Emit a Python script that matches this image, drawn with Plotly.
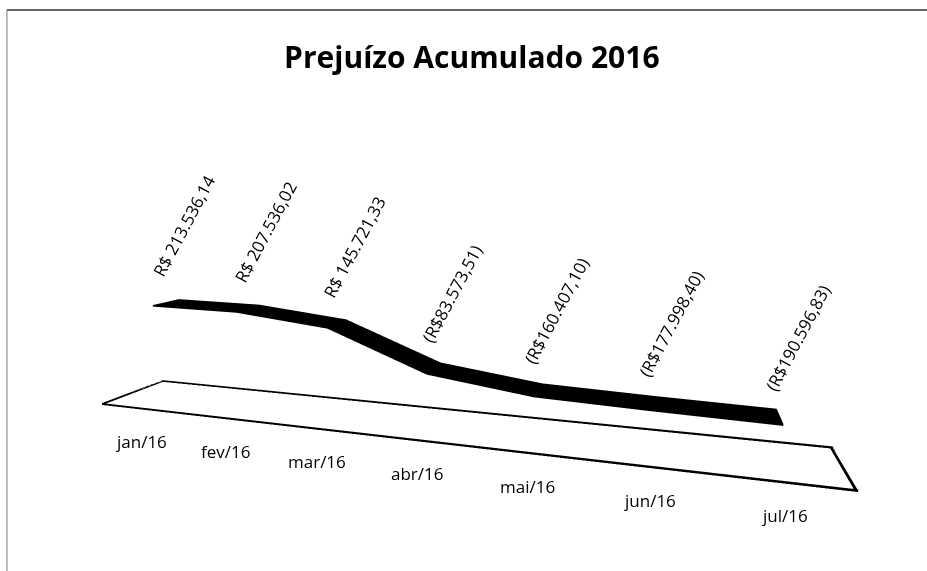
import plotly.graph_objects as go

months = ["jan/16", "fev/16", "mar/16", "abr/16", "mai/16", "jun/16", "jul/16"]
values = [213536.14, 207536.02, 145721.33, -83573.51, -160407.10, -177998.40, -190596.83]
z_floor = -434000
z_top = 300000


def brl(v):
    s = f"{abs(v):,.2f}".replace(",", "X").replace(".", ",").replace("X", ".")
    return f"R$ {s}" if v >= 0 else f"(R${s})"


idx = list(range(len(months)))
half_depth = 0.22
rib_h = 10000

# ribbon for the 3d line: top face plus a thin front face
rx, ry, rz = [], [], []
for i, v in zip(idx, values):
    rx += [i, i, i]
    ry += [-half_depth, half_depth, -half_depth]
    rz += [v, v, v - rib_h]
ii, jj, kk = [], [], []
for n in range(len(idx) - 1):
    a, b = 3 * n, 3 * (n + 1)
    ii += [a, a + 1, a + 2, a + 2]
    jj += [a + 1, b + 1, a, b]
    kk += [b, b, b, b + 2]


def quad(xs, ys, zs, mesh):
    base = len(mesh["x"])
    mesh["x"] += xs
    mesh["y"] += ys
    mesh["z"] += zs
    mesh["i"] += [base, base]
    mesh["j"] += [base + 1, base + 2]
    mesh["k"] += [base + 2, base + 3]


# floor outline drawn as thin strips (gl lines are only 1px wide)
x0, x1 = -0.5, len(idx) - 0.5
edge_h = 13000
side_w = 0.025
floor = dict(x=[], y=[], z=[], i=[], j=[], k=[])
zt = z_floor + edge_h
for yy in (-0.5, 0.5):
    quad([x0, x1, x1, x0], [yy] * 4, [z_floor, z_floor, zt, zt], floor)
for xx, sx in ((x0, side_w), (x1, -side_w)):
    quad([xx] * 4, [-0.5, 0.5, 0.5, -0.5], [z_floor, z_floor, zt, zt], floor)
    quad([xx, xx + sx, xx + sx, xx], [-0.5, -0.5, 0.5, 0.5], [z_floor + edge_h / 2] * 4, floor)

fig = go.Figure()
fig.add_trace(go.Mesh3d(
    **floor, color="black", flatshading=True,
    lighting=dict(ambient=1, diffuse=0, specular=0), hoverinfo="skip",
))
fig.add_trace(go.Mesh3d(
    x=rx, y=ry, z=rz, i=ii, j=jj, k=kk, color="black", flatshading=True,
    lighting=dict(ambient=1, diffuse=0, specular=0), hoverinfo="skip",
))

annotations = []
for i, v in zip(idx, values):
    annotations.append(dict(
        x=i, y=0, z=v, text=brl(v), textangle=-62, showarrow=False,
        xanchor="center", yanchor="bottom", xshift=18, yshift=19,
        font=dict(family="Open Sans", size=17, color="black"),
    ))
for i, m in zip(idx, months):
    annotations.append(dict(
        x=i, y=-0.5, z=z_floor, text=m, showarrow=False,
        xanchor="center", yanchor="middle", yshift=-32,
        font=dict(family="Open Sans", size=17, color="black"),
    ))

axis = dict(visible=False, showbackground=False, showgrid=False, zeroline=False,
            showspikes=False)
fig.update_layout(
    width=927, height=571,
    paper_bgcolor="white",
    margin=dict(l=0, r=0, t=0, b=0),
    hovermode=False,
    title=dict(text="<b>Prejuízo Acumulado 2016</b>", x=0.509, y=0.9, xanchor="center",
               yanchor="middle", font=dict(family="Open Sans", size=30, color="black")),
    showlegend=False,
    scene=dict(
        domain=dict(x=[0, 1], y=[0, 1]),
        xaxis=dict(axis, range=[x0, x1]),
        yaxis=dict(axis, range=[-0.5, 0.5]),
        zaxis=dict(axis, range=[z_floor, z_top]),
        aspectmode="manual",
        aspectratio=dict(x=3.106, y=0.397, z=0.522),
        camera=dict(eye=dict(x=0.9415, y=-2.6398, z=0.739),
                    center=dict(x=0.1322, y=-0.0092, z=0.3414)),
        annotations=annotations,
    ),
    shapes=[
        dict(type="line", xref="paper", yref="paper", x0=0.0075, x1=1, y0=1 - 10 / 571,
             y1=1 - 10 / 571, line=dict(color="#333", width=1.5)),
        dict(type="line", xref="paper", yref="paper", x0=0.0075, x1=0.0075, y0=0,
             y1=1 - 10 / 571, line=dict(color="#777", width=1)),
    ],
)

fig.write_html("out.html", config={"displayModeBar": False},
               post_script="document.body.style.margin = '0px';")
